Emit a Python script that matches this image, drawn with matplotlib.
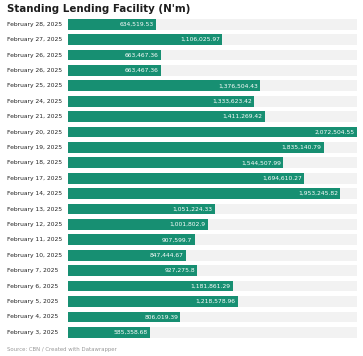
"""
Standing Lending Facility - horizontal bars, datawrapper style
"""
import matplotlib
matplotlib.use('Agg')
from matplotlib import pyplot as plt

dates = ['February 28, 2025', 'February 27, 2025', 'February 26, 2025',
         'February 26, 2025', 'February 25, 2025', 'February 24, 2025',
         'February 21, 2025', 'February 20, 2025', 'February 19, 2025',
         'February 18, 2025', 'February 17, 2025', 'February 14, 2025',
         'February 13, 2025', 'February 12, 2025', 'February 11, 2025',
         'February 10, 2025', 'February 7, 2025', 'February 6, 2025',
         'February 5, 2025', 'February 4, 2025', 'February 3, 2025']
values = [634519.53, 1106025.97, 663467.36, 663467.36, 1376504.43,
          1333623.42, 1411269.42, 2072504.55, 1835140.79, 1544507.99,
          1694610.27, 1953245.82, 1051224.33, 1001802.9, 907599.7,
          847444.67, 927275.8, 1181861.29, 1218578.96, 806019.39,
          585358.68]
value_labels = ['634,519.53', '1,106,025.97', '663,467.36', '663,467.36',
                '1,376,504.43', '1,333,623.42', '1,411,269.42', '2,072,504.55',
                '1,835,140.79', '1,544,507.99', '1,694,610.27', '1,953,245.82',
                '1,051,224.33', '1,001,802.9', '907,599.7', '847,444.67',
                '927,275.8', '1,181,861.29', '1,218,578.96', '806,019.39',
                '585,358.68']

W, H = 363, 356
fig = plt.figure(figsize=(W / 100, H / 100), dpi=100)
ax = fig.add_axes([68 / W, 1 - 340 / H, (357 - 68) / W, (340 - 16.5) / H])

vmax = max(values)
n = len(values)
ypos = list(range(n))
bar_h = 0.7

# background track
ax.barh(ypos, [vmax] * n, height=bar_h, color='#f2f2f2', linewidth=0)
ax.barh(ypos, values, height=bar_h, color='#178f72', linewidth=0)

pad = vmax * 0.008
for y, v, lab in zip(ypos, values, value_labels):
    ax.text(v - pad, y, lab, ha='right', va='center', fontsize=4.3,
            color='white')

ax.set_xlim(0, vmax)
ax.set_ylim(n - 0.5, -0.5)
ax.axis('off')

for y, d in zip(ypos, dates):
    yy = 1 - (16.5 + (y + 0.5) * (340 - 16.5) / n) / H
    fig.text(7 / W, yy, d, ha='left', va='center', fontsize=4.3,
             color='#222222')

fig.text(7 / W, 1 - 9 / H, "Standing Lending Facility (N'm)", ha='left',
         va='center', fontsize=7.4, fontweight='bold', color='#1d1d1d')
fig.text(7 / W, 1 - 349 / H, 'Source: CBN / Created with Datawrapper',
         ha='left', va='center', fontsize=3.9, color='#999999')

plt.savefig('out.png', dpi=100)
